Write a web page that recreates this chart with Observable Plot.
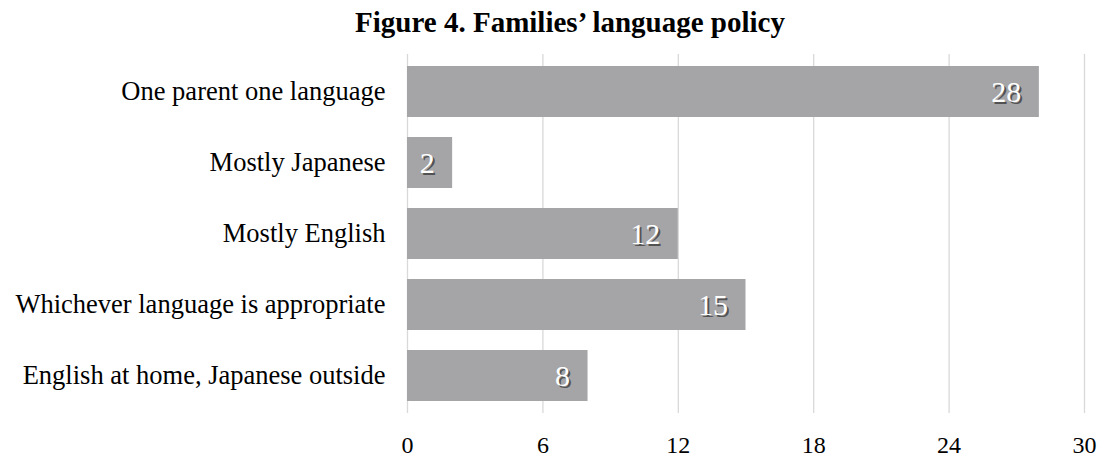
<!DOCTYPE html>
<html>
<head>
<meta charset="utf-8">
<script src="https://cdn.jsdelivr.net/npm/d3@7"></script>
<script src="https://cdn.jsdelivr.net/npm/@observablehq/plot@0.6"></script>
<style>
  html, body { margin: 0; padding: 0; background: #fff; }
  #title { height: 45px; width: 1100px; font-family: "Liberation Serif", "Times New Roman", serif; font-weight: bold; font-size: 29px; text-align: center; line-height: 45px; padding-left: 40px; box-sizing: border-box; color: #000; white-space: nowrap; }
  #chart svg { display: block; }
</style>
</head>
<body>
<div id="title">Figure 4. Families’ language policy</div>
<div id="chart"></div>
<script>
const categories = [
  "One parent one language",
  "Mostly Japanese",
  "Mostly English",
  "Whichever language is appropriate",
  "English at home, Japanese outside"
];
const values = [28, 2, 12, 15, 8];
const xTicks = [0, 6, 12, 18, 24, 30];

const data = categories.map((c, i) => ({category: c, value: values[i]}));
const serif = "'Liberation Serif', 'Times New Roman', serif";

const chart = Plot.plot({
  width: 1100,
  height: 412,
  marginLeft: 407,
  marginRight: 16,
  marginTop: 9,
  marginBottom: 44,
  style: {fontFamily: serif, fontSize: "22px", color: "#000", background: "#fff"},
  x: {domain: [0, 30], ticks: xTicks, label: null, grid: false},
  y: {domain: categories, label: null, paddingInner: 0.28, paddingOuter: 0.14},
  marks: [
    Plot.ruleX(xTicks, {stroke: "#d9d9d9", strokeWidth: 1.3, strokeOpacity: 1}),
    Plot.barX(data, {x: "value", y: "category", fill: "#a5a5a8"}),
    Plot.text(data, {x: "value", y: "category", text: d => String(d.value), textAnchor: "end", dx: -16, dy: 2, fill: "#1a1a1a", fillOpacity: 0.6, fontSize: 30, fontFamily: serif, ariaLabel: "value-shadow"}),
    Plot.text(data, {x: "value", y: "category", text: d => String(d.value), textAnchor: "end", dx: -18, dy: 0, fill: "#ffffff", fontSize: 30, fontFamily: serif, ariaLabel: "value-labels"}),
    Plot.axisY({tickSize: 0, tickPadding: 22, fontSize: 26.5, label: null}),
    Plot.axisX({ticks: xTicks, tickSize: 0, tickPadding: 22, fontSize: 24, label: null})
  ]
});

// soften the label shadow slightly
const svg = d3.select(chart);
const defs = svg.insert("defs", ":first-child");
defs.append("filter").attr("id", "softBlur").attr("x", "-20%").attr("y", "-20%").attr("width", "140%").attr("height", "140%")
  .append("feGaussianBlur").attr("stdDeviation", 0.7);
svg.selectAll('[aria-label="value-shadow"]').attr("filter", "url(#softBlur)");

document.getElementById("chart").appendChild(chart);
</script>
</body>
</html>
